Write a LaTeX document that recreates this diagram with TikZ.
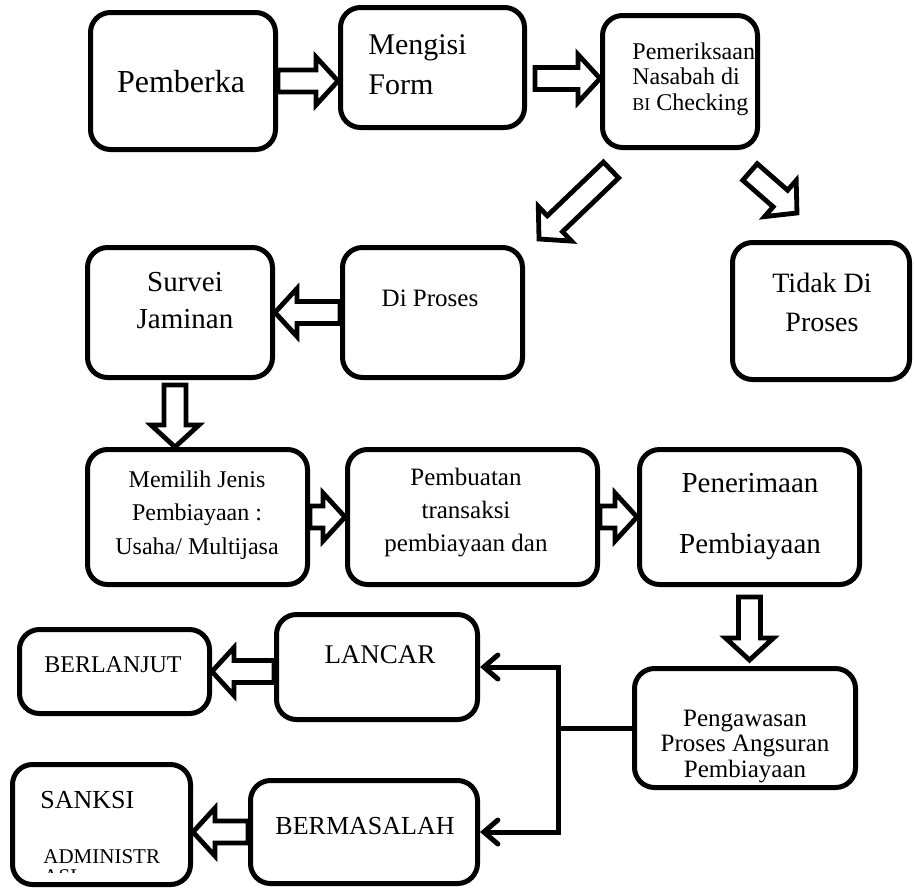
\documentclass[tikz,border=0pt]{standalone}
\usepackage{fontspec}
\setmainfont{Liberation Serif}
\usetikzlibrary{arrows.meta,calc}

% ukuran panah tebal
\def\pbatang{5.5pt}
\def\pkepala{12pt}
\def\pujung{11pt}

\tikzset{
  kotak/.style={draw, line width=2.5pt, rounded corners=10pt, inner sep=0pt},
  teks/.style 2 args={inner sep=0pt, align=center, font=\fontsize{#1}{#2}\selectfont},
  sepanjang/.style={shift={(\tikztostart)}, rotate=\n2},
  panah/.style={draw, line width=2.4pt, line join=miter, to path={
    let \p1=($(\tikztotarget)-(\tikztostart)$),
        \n1={veclen(\x1,\y1)}, \n2={atan2(\y1,\x1)} in
    ([sepanjang]0pt,\pbatang) -- ([sepanjang]{\n1-\pujung},\pbatang)
    -- ([sepanjang]{\n1-\pujung},\pkepala) -- ([sepanjang]\n1,0pt)
    -- ([sepanjang]{\n1-\pujung},-\pkepala) -- ([sepanjang]{\n1-\pujung},-\pbatang)
    -- ([sepanjang]0pt,-\pbatang) -- cycle}},
  garis/.style={line width=2.5pt, line join=miter, -{Straight Barb[length=7pt,width=12pt,line cap=round]}},
}

\begin{document}
\begin{tikzpicture}[x=0.5pt,y=-0.5pt]
\useasboundingbox (0,0) rectangle (914,889);

% Kotak baris atas
\node[kotak, minimum width=92.5pt, minimum height=68.5pt] (berka) at (183,81) {};
\node[kotak, minimum width=92pt, minimum height=60pt] (form) at (432.5,67.5) {};
\node[kotak, minimum width=77.5pt, minimum height=66pt] (cek) at (680,81.5) {};

\node[teks={16}{19}] (berkaT) at (181,82) {Pemberka};
\node[teks={15}{20}, align=left, anchor=west] (formT) at (368,65) {Mengisi\\Form};
\node[teks={12}{12.75}, align=left, anchor=west] (cekT) at (632,79)
  {Pemeriksaan\\Nasabah di\\{\fontsize{9}{9}\selectfont BI} Checking};

% Kotak baris kedua
\node[kotak, minimum width=92.5pt, minimum height=65pt] (survei) at (180,312.5) {};
\node[kotak, minimum width=90pt, minimum height=65pt] (dip) at (432.5,312.5) {};
\node[kotak, minimum width=88.5pt, minimum height=68.5pt] (tidak) at (821,311) {};

\node[teks={14.5}{18.5}] (surveiT) at (185,301) {Survei\\Jaminan};
\node[teks={12.5}{15}] (dipT) at (430,298) {Di Proses};
\node[teks={14}{19.5}] (tidakT) at (822,302) {Tidak Di\\Proses};

% Kotak baris ketiga
\node[kotak, minimum width=110pt, minimum height=67.5pt] (pilih) at (197.5,517) {};
\node[kotak, minimum width=125pt, minimum height=67.5pt] (buat) at (472.5,517) {};
\node[kotak, minimum width=110pt, minimum height=67.5pt] (terima) at (749.5,517) {};

\node[teks={12}{16.75}] (pilihT) at (197,515) {Memilih Jenis\\Pembiayaan :\\Usaha/ Multijasa};
\node[teks={12.5}{16.5}] (buatT) at (466,513) {Pembuatan\\transaksi\\pembiayaan dan};
\node[teks={14.5}{30.5}] (terimaT) at (750,517) {Penerimaan\\Pembiayaan};

% Kotak bawah
\node[kotak, minimum width=110.5pt, minimum height=59.5pt] (awas) at (745,728) {};
\node[kotak, minimum width=100.5pt, minimum height=52.5pt] (lancar) at (377,667) {};
\node[kotak, minimum width=95pt, minimum height=42pt] (lanjut) at (114.5,671.5) {};
\node[kotak, minimum width=113.5pt, minimum height=51.5pt] (masalah) at (364,832) {};
\node[kotak, minimum width=89pt, minimum height=60pt] (sanksi) at (101.5,824.5) {};

\node[teks={12.5}{12.75}] (awasT) at (745,746) {Pengawasan\\Proses Angsuran\\Pembiayaan};
\node[teks={13.5}{15}] (lancarT) at (380,655) {LANCAR};
\node[teks={12}{14}] (lanjutT) at (113,665) {BERLANJUT};
\node[teks={13}{15}] (masalahT) at (365,826) {BERMASALAH};
\node[teks={13}{15}, anchor=west] (sanksiT) at (40,800) {SANKSI};
\node[teks={10.5}{12}, anchor=west] (adminT) at (43,857) {ADMINISTR};
\begin{scope}
\clip (30,868) rectangle (130,872);
\node[teks={10.5}{12}, anchor=base west] (asiT) at (43,883) {ASI};
\end{scope}

% Panah tebal
\draw[panah] (berka.east) to (berka.east -| form.west);
\draw[panah] ([xshift=4pt,yshift=-5.5pt]form.east) to ([yshift=-5.5pt]form.east -| cek.west);
\coordinate (kiri0) at (611,170);
\coordinate (kiri1) at (539,239);
\coordinate (kanan0) at (750,172);
\coordinate (kanan1) at (797,213);
\draw[panah] (kiri0) to (kiri1);
\draw[panah] (kanan0) to (kanan1);
\draw[panah] (dip.west) to (dip.west -| survei.east);
\draw[panah] ([xshift=-2.5pt,yshift=-2.5pt]survei.south) to ([xshift=-2.5pt]survei.south |- pilih.north);
\draw[panah] (pilih.east) to (buat.west);
\draw[panah] (buat.east) to (terima.west);
\draw[panah] ([yshift=-5pt]terima.south) to ([yshift=3pt]terima.south |- awas.north);
\draw[panah] (lancar.west |- lanjut.east) to (lanjut.east);
\draw[panah] (masalah.west) to (masalah.west -| sanksi.east);

% Cabang pengawasan
\coordinate (cab) at (558,728);
\draw[line width=2.5pt] (awas.west) -- (cab);
\draw[garis] (cab) |- (lancar.east);
\draw[garis] (cab) |- (masalah.east);

\end{tikzpicture}
\end{document}
